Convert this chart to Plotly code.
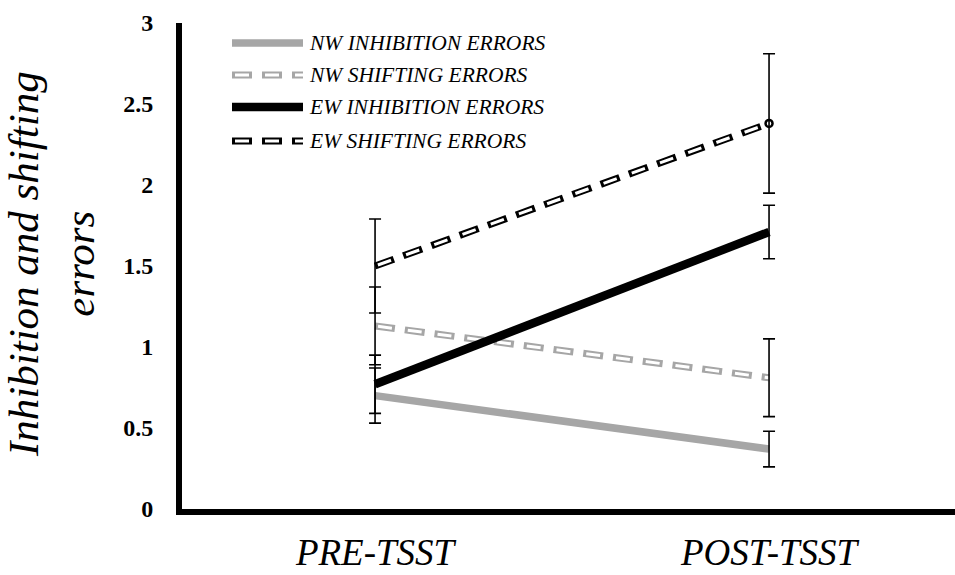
import plotly.graph_objects as go

# ---------------- data ----------------
categories = ["PRE-TSST", "POST-TSST"]

nw_inhibition = [0.70, 0.37]
nw_inhibition_err = [0.17, 0.11]

nw_shifting = [1.13, 0.81]
nw_shifting_err = [0.24, 0.24]

ew_inhibition = [0.77, 1.71]
ew_inhibition_err = [0.18, 0.165]

ew_shifting = [1.50, 2.38]
ew_shifting_err = [0.29, 0.43]

y_tick_values = [0, 0.5, 1, 1.5, 2, 2.5, 3]
y_tick_labels = ["0", "0.5", "1", "1.5", "2", "2.5", "3"]

legend_names = ["NW INHIBITION ERRORS", "NW SHIFTING ERRORS",
                "EW INHIBITION ERRORS", "EW SHIFTING ERRORS"]

y_title = "Inhibition and shifting<br>errors"

# ---------------- style ----------------
W, H = 955, 575
M_L, M_R, M_T, M_B = 182, 0, 23, 66
PLOT_W = W - M_L - M_R
PLOT_H = H - M_T - M_B

GRAY = "#A6A6A6"
BLACK = "#000000"
OUTER_DASH = "20px,10px"
INNER_DASH = "0px,3px,14px,13px"
SERIF = "Times New Roman, serif"


def px_x(px):
    return (px - M_L) / PLOT_W


def px_y(py):
    return (H - M_B - py) / PLOT_H


fig = go.Figure()

# NW inhibition: solid gray
fig.add_trace(go.Scatter(x=categories, y=nw_inhibition, mode="lines",
                         line=dict(color=GRAY, width=7.5), showlegend=False))
# NW shifting: hollow gray dashes
fig.add_trace(go.Scatter(x=categories, y=nw_shifting, mode="lines",
                         line=dict(color=GRAY, width=7, dash=OUTER_DASH), showlegend=False))
fig.add_trace(go.Scatter(x=categories, y=nw_shifting, mode="lines",
                         line=dict(color="white", width=3, dash=INNER_DASH), showlegend=False))
# EW inhibition: solid black
fig.add_trace(go.Scatter(x=categories, y=ew_inhibition, mode="lines",
                         line=dict(color=BLACK, width=8.5), showlegend=False))
# EW shifting: hollow black dashes
fig.add_trace(go.Scatter(x=categories, y=ew_shifting, mode="lines",
                         line=dict(color=BLACK, width=7, dash=OUTER_DASH), showlegend=False))
fig.add_trace(go.Scatter(x=categories, y=ew_shifting, mode="lines+markers",
                         line=dict(color="white", width=3, dash=INNER_DASH),
                         marker=dict(size=7, color="white", opacity=[0, 1],
                                     line=dict(color=BLACK, width=2.5)),
                         showlegend=False))

# error bars on top
for vals, errs in [(nw_inhibition, nw_inhibition_err), (nw_shifting, nw_shifting_err),
                   (ew_inhibition, ew_inhibition_err), (ew_shifting, ew_shifting_err)]:
    fig.add_trace(go.Scatter(x=categories, y=vals, mode="markers",
                             marker=dict(size=1, opacity=0),
                             error_y=dict(type="data", array=errs, visible=True,
                                          color=BLACK, thickness=1.6, width=6),
                             showlegend=False, hoverinfo="skip"))

# ---------------- manual legend ----------------
legend_rows_px = [43, 75, 107, 141]
lx0, lx1, ltext = 232, 303, 307
shapes = []
annotations = []
legend_styles = [
    [dict(color=GRAY, width=7.5)],
    [dict(color=GRAY, width=7, dash=OUTER_DASH), dict(color="white", width=3, dash=INNER_DASH)],
    [dict(color=BLACK, width=8.5)],
    [dict(color=BLACK, width=7, dash=OUTER_DASH), dict(color="white", width=3, dash=INNER_DASH)],
]
for name, ry, styles in zip(legend_names, legend_rows_px, legend_styles):
    for st in styles:
        shapes.append(dict(type="line", xref="paper", yref="paper",
                           x0=px_x(lx0), x1=px_x(lx1), y0=px_y(ry), y1=px_y(ry),
                           line=st, layer="above"))
    annotations.append(dict(text=name, xref="paper", yref="paper",
                            x=px_x(ltext), y=px_y(ry), xanchor="left", yanchor="middle",
                            showarrow=False,
                            font=dict(family=SERIF, size=21.5, color=BLACK, style="italic")))

# y-axis title
annotations.append(dict(text=y_title, xref="paper", yref="paper",
                        x=px_x(51), y=px_y(264), xanchor="center", yanchor="middle",
                        textangle=-90, showarrow=False,
                        font=dict(family=SERIF, size=43, color=BLACK, style="italic")))

fig.update_layout(
    width=W, height=H, autosize=False,
    margin=dict(l=M_L, r=M_R, t=M_T, b=M_B, pad=0),
    paper_bgcolor="white", plot_bgcolor="white",
    showlegend=False,
    font=dict(family=SERIF, color=BLACK),
    shapes=shapes, annotations=annotations,
    xaxis=dict(type="category", range=[-0.49, 1.472],
               showline=True, linecolor=BLACK, linewidth=6,
               showgrid=False, zeroline=False, ticks="",
               ticklabelstandoff=6,
               tickfont=dict(family=SERIF, size=37, color=BLACK, style="italic")),
    yaxis=dict(range=[0, 3], tickvals=y_tick_values, ticktext=y_tick_labels,
               showline=True, linecolor=BLACK, linewidth=6,
               showgrid=False, zeroline=False, ticks="",
               ticklabelstandoff=18,
               tickfont=dict(family=SERIF, size=24, color=BLACK, weight="bold")),
)

fig.write_html("out.html")
